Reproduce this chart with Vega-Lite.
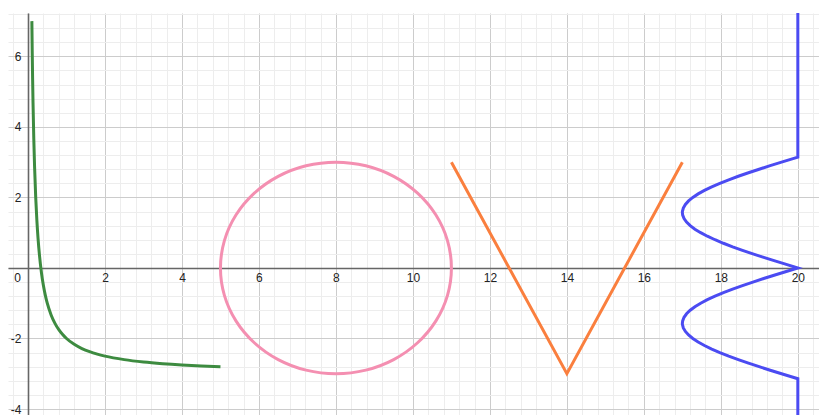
{
  "$schema": "https://vega.github.io/schema/vega-lite/v6.json",
  "width": 811,
  "height": 402,
  "autosize": "none",
  "padding": {"left": 8, "top": 13, "right": 0, "bottom": 0},
  "background": "white",
  "config": {"view": {"stroke": null}},
  "datasets": {
    "green": [
      {"x": 0.1, "y": 7}, {"x": 0.11, "y": 6.091}, {"x": 0.12, "y": 5.333}, {"x": 0.13, "y": 4.692},
      {"x": 0.15, "y": 3.667}, {"x": 0.17, "y": 2.882}, {"x": 0.2, "y": 2}, {"x": 0.23, "y": 1.348},
      {"x": 0.26, "y": 0.846}, {"x": 0.3, "y": 0.333}, {"x": 0.35, "y": -0.143}, {"x": 0.4, "y": -0.5},
      {"x": 0.45, "y": -0.778}, {"x": 0.5, "y": -1}, {"x": 0.6, "y": -1.333}, {"x": 0.7, "y": -1.571},
      {"x": 0.8, "y": -1.75}, {"x": 0.9, "y": -1.889}, {"x": 1.0, "y": -2}, {"x": 1.2, "y": -2.167},
      {"x": 1.4, "y": -2.286}, {"x": 1.6, "y": -2.375}, {"x": 1.8, "y": -2.444}, {"x": 2.0, "y": -2.5},
      {"x": 2.5, "y": -2.6}, {"x": 3.0, "y": -2.667}, {"x": 3.5, "y": -2.714}, {"x": 4.0, "y": -2.75},
      {"x": 4.5, "y": -2.778}, {"x": 5.0, "y": -2.8}
    ],
    "circle": [
      {"a": 0, "x": 11, "y": 0}, {"a": 15, "x": 10.898, "y": 0.776}, {"a": 30, "x": 10.598, "y": 1.5},
      {"a": 45, "x": 10.121, "y": 2.121}, {"a": 60, "x": 9.5, "y": 2.598}, {"a": 75, "x": 8.776, "y": 2.898},
      {"a": 90, "x": 8, "y": 3}, {"a": 105, "x": 7.224, "y": 2.898}, {"a": 120, "x": 6.5, "y": 2.598},
      {"a": 135, "x": 5.879, "y": 2.121}, {"a": 150, "x": 5.402, "y": 1.5}, {"a": 165, "x": 5.102, "y": 0.776},
      {"a": 180, "x": 5, "y": 0}, {"a": 195, "x": 5.102, "y": -0.776}, {"a": 210, "x": 5.402, "y": -1.5},
      {"a": 225, "x": 5.879, "y": -2.121}, {"a": 240, "x": 6.5, "y": -2.598}, {"a": 255, "x": 7.224, "y": -2.898},
      {"a": 270, "x": 8, "y": -3}, {"a": 285, "x": 8.776, "y": -2.898}, {"a": 300, "x": 9.5, "y": -2.598},
      {"a": 315, "x": 10.121, "y": -2.121}, {"a": 330, "x": 10.598, "y": -1.5}, {"a": 345, "x": 10.898, "y": -0.776}
    ],
    "vee": [
      {"x": 11, "y": 3}, {"x": 14, "y": -3}, {"x": 17, "y": 3}
    ],
    "ee": [
      {"x": 20, "y": 7.6}, {"x": 20, "y": 3.1416}, {"x": 19.875, "y": 3.1}, {"x": 19.577, "y": 3.0},
      {"x": 19.282, "y": 2.9}, {"x": 18.995, "y": 2.8}, {"x": 18.718, "y": 2.7}, {"x": 18.453, "y": 2.6},
      {"x": 18.205, "y": 2.5}, {"x": 17.974, "y": 2.4}, {"x": 17.763, "y": 2.3}, {"x": 17.574, "y": 2.2},
      {"x": 17.41, "y": 2.1}, {"x": 17.272, "y": 2.0}, {"x": 17.161, "y": 1.9}, {"x": 17.079, "y": 1.8},
      {"x": 17.025, "y": 1.7}, {"x": 17.001, "y": 1.6}, {"x": 17, "y": 1.5708}, {"x": 17.008, "y": 1.5},
      {"x": 17.044, "y": 1.4}, {"x": 17.109, "y": 1.3}, {"x": 17.204, "y": 1.2}, {"x": 17.326, "y": 1.1},
      {"x": 17.476, "y": 1.0}, {"x": 17.65, "y": 0.9}, {"x": 17.848, "y": 0.8}, {"x": 18.067, "y": 0.7},
      {"x": 18.306, "y": 0.6}, {"x": 18.562, "y": 0.5}, {"x": 18.832, "y": 0.4}, {"x": 19.113, "y": 0.3},
      {"x": 19.404, "y": 0.2}, {"x": 19.7, "y": 0.1}, {"x": 20, "y": 0},
      {"x": 19.7, "y": -0.1}, {"x": 19.404, "y": -0.2}, {"x": 19.113, "y": -0.3}, {"x": 18.832, "y": -0.4},
      {"x": 18.562, "y": -0.5}, {"x": 18.306, "y": -0.6}, {"x": 18.067, "y": -0.7}, {"x": 17.848, "y": -0.8},
      {"x": 17.65, "y": -0.9}, {"x": 17.476, "y": -1.0}, {"x": 17.326, "y": -1.1}, {"x": 17.204, "y": -1.2},
      {"x": 17.109, "y": -1.3}, {"x": 17.044, "y": -1.4}, {"x": 17.008, "y": -1.5}, {"x": 17, "y": -1.5708},
      {"x": 17.001, "y": -1.6}, {"x": 17.025, "y": -1.7}, {"x": 17.079, "y": -1.8}, {"x": 17.161, "y": -1.9},
      {"x": 17.272, "y": -2.0}, {"x": 17.41, "y": -2.1}, {"x": 17.574, "y": -2.2}, {"x": 17.763, "y": -2.3},
      {"x": 17.974, "y": -2.4}, {"x": 18.205, "y": -2.5}, {"x": 18.453, "y": -2.6}, {"x": 18.718, "y": -2.7},
      {"x": 18.995, "y": -2.8}, {"x": 19.282, "y": -2.9}, {"x": 19.577, "y": -3.0}, {"x": 19.875, "y": -3.1},
      {"x": 20, "y": -3.1416}, {"x": 20, "y": -4.6}
    ]
  },
  "encoding": {
    "x": {
      "field": "x", "type": "quantitative",
      "scale": {"domain": [-0.52, 20.55], "nice": false, "zero": false},
      "axis": {
        "title": null,
        "orient": "bottom",
        "offset": -147,
        "values": [-0.4,0,0.4,0.8,1.2,1.6,2,2.4,2.8,3.2,3.6,4,4.4,4.8,5.2,5.6,6,6.4,6.8,7.2,7.6,8,8.4,8.8,9.2,9.6,10,10.4,10.8,11.2,11.6,12,12.4,12.8,13.2,13.6,14,14.4,14.8,15.2,15.6,16,16.4,16.8,17.2,17.6,18,18.4,18.8,19.2,19.6,20,20.4],
        "grid": true,
        "gridColor": {"condition": {"test": "abs(datum.value / 2 - round(datum.value / 2)) < 0.01", "value": "#cccccc"}, "value": "#ededed"},
        "gridWidth": 1,
        "ticks": false,
        "domain": true,
        "domainColor": "#666666",
        "domainWidth": 1.6,
        "labelExpr": "abs(datum.value / 2 - round(datum.value / 2)) < 0.01 ? '' + datum.value : ''",
        "labelOffset": {"condition": {"test": "datum.value == 0", "value": -11}, "value": 0},
        "labelFont": "Liberation Sans",
        "labelFontSize": 12,
        "labelColor": "#222222",
        "labelPadding": 4,
        "labelFlush": false,
        "labelOverlap": false
      }
    },
    "y": {
      "field": "y", "type": "quantitative",
      "scale": {"domain": [-4.17, 7.23], "nice": false, "zero": false},
      "axis": {
        "title": null,
        "orient": "left",
        "offset": -20,
        "values": [-4,-3.6,-3.2,-2.8,-2.4,-2,-1.6,-1.2,-0.8,-0.4,0,0.4,0.8,1.2,1.6,2,2.4,2.8,3.2,3.6,4,4.4,4.8,5.2,5.6,6,6.4,6.8,7.2],
        "grid": true,
        "gridColor": {"condition": {"test": "abs(datum.value / 2 - round(datum.value / 2)) < 0.01", "value": "#cccccc"}, "value": "#ededed"},
        "gridWidth": 1,
        "ticks": false,
        "domain": true,
        "domainColor": "#666666",
        "domainWidth": 1.6,
        "labelExpr": "datum.value != 0 && abs(datum.value / 2 - round(datum.value / 2)) < 0.01 ? '' + datum.value : ''",
        "labelFont": "Liberation Sans",
        "labelFontSize": 12,
        "labelColor": "#222222",
        "labelPadding": 7,
        "labelFlush": false,
        "labelOverlap": false
      }
    }
  },
  "layer": [
    {
      "data": {"name": "green"},
      "mark": {"type": "line", "color": "#3d8b40", "strokeWidth": 3, "interpolate": "monotone", "clip": true}
    },
    {
      "data": {"name": "circle"},
      "mark": {"type": "line", "color": "#f48fb1", "strokeWidth": 3, "interpolate": "cardinal-closed", "clip": true},
      "encoding": {"order": {"field": "a", "type": "quantitative"}}
    },
    {
      "data": {"name": "vee"},
      "mark": {"type": "line", "color": "#fa7f3e", "strokeWidth": 3, "clip": true}
    },
    {
      "data": {"name": "ee"},
      "mark": {"type": "line", "color": "#4b4bf2", "strokeWidth": 3, "clip": true},
      "encoding": {"order": {"field": "y", "type": "quantitative", "sort": "descending"}}
    }
  ]
}
